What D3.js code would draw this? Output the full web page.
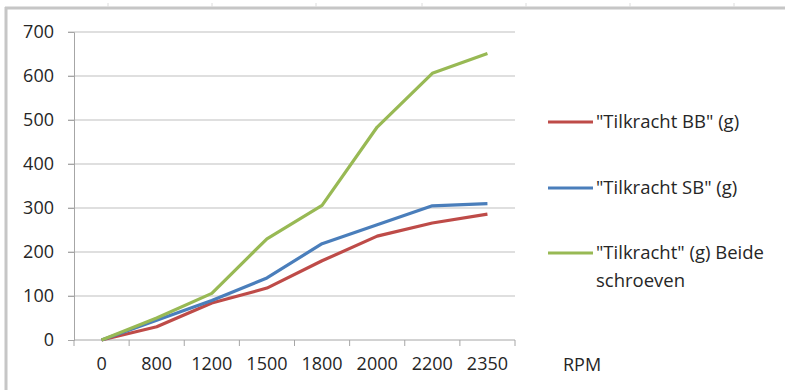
<!DOCTYPE html>
<html>
<head>
<meta charset="utf-8">
<script src="https://cdn.jsdelivr.net/npm/d3@7"></script>
<style>
  body { margin: 0; background: #fff; }
  svg text { font-family: "Open Sans", "Noto Sans", sans-serif; fill: #262626; }
</style>
</head>
<body>
<div id="chart"></div>
<script>
// RPM categories and the three series (g)
var rpm = ["0", "800", "1200", "1500", "1800", "2000", "2200", "2350"];
var tilkrachtBB = [0, 30, 84, 118, 180, 236, 266, 286];
var tilkrachtSB = [0, 45, 90, 141, 219, 262, 305, 310];
var tilkrachtBeide = [0, 50, 106, 230, 306, 484, 606, 651];
var yTicks = [0, 100, 200, 300, 400, 500, 600, 700];

var seriesNames = ['"Tilkracht BB" (g)', '"Tilkracht SB" (g)', '"Tilkracht" (g) Beide schroeven'];
var seriesColors = ["#be4b48", "#4a7ebb", "#98b954"];
var seriesData = [tilkrachtBB, tilkrachtSB, tilkrachtBeide];

var W = 785, H = 390;
var svg = d3.select("#chart").append("svg")
    .attr("width", W)
    .attr("height", H);

// outer frame (spreadsheet border)
svg.append("line").attr("x1", 5).attr("x2", W).attr("y1", 8).attr("y2", 8)
    .attr("stroke", "#c6c6c6").attr("stroke-width", 3);
svg.append("line").attr("x1", 6).attr("x2", 6).attr("y1", 7).attr("y2", H)
    .attr("stroke", "#c6c6c6").attr("stroke-width", 3);
[108, 212, 316, 422, 526, 630, 734].forEach(function(x) {
  svg.append("line").attr("x1", x).attr("x2", x).attr("y1", 3).attr("y2", 7)
      .attr("stroke", "#dcdcdc");
});

var margin = {left: 74, top: 32, right: 270, bottom: 50};
var plotW = 515 - margin.left, plotH = 340 - margin.top;

var g = svg.append("g")
    .attr("transform", "translate(" + margin.left + "," + margin.top + ")");

var x = d3.scaleBand()
    .domain(rpm)
    .range([0, plotW]);

var y = d3.scaleLinear()
    .domain([0, 700])
    .range([plotH, 0]);

// horizontal gridlines
g.selectAll(".grid")
  .data(yTicks.filter(function(d) { return d > 0; }))
  .enter()
  .append("line")
    .attr("x1", -6)
    .attr("x2", plotW)
    .attr("y1", function(d) { return y(d); })
    .attr("y2", function(d) { return y(d); })
    .attr("stroke", "#bfbfbf")
    .attr("stroke-width", 1);

// Y axis
var yAxis = g.append("g")
    .call(d3.axisLeft(y).tickValues(yTicks).tickSize(6).tickPadding(14));
yAxis.attr("font-size", null);
yAxis.select(".domain").attr("stroke", "#a6a6a6");
yAxis.selectAll(".tick line").attr("stroke", "#a6a6a6");
yAxis.selectAll("text").attr("font-size", "18px").style("font-size", "18px").attr("fill", "#262626");

// X axis
var xAxis = g.append("g")
    .attr("transform", "translate(0," + plotH + ")")
    .call(d3.axisBottom(x).tickSize(0).tickPadding(17));
xAxis.attr("font-size", null);
xAxis.select(".domain").attr("stroke", "#a6a6a6").attr("d", "M0,0H" + plotW);
xAxis.selectAll("text").attr("font-size", "18px").style("font-size", "18px").attr("fill", "#262626");

// tick marks between categories
var edges = rpm.map(function(d) { return x(d); }).concat([plotW]);
g.selectAll(".xtick")
  .data(edges)
  .enter()
  .append("line")
    .attr("x1", function(d) { return d; })
    .attr("x2", function(d) { return d; })
    .attr("y1", plotH)
    .attr("y2", plotH + 6)
    .attr("stroke", "#a6a6a6");

// lines
var line = d3.line()
    .x(function(d, i) { return x(rpm[i]) + x.bandwidth() / 2; })
    .y(function(d) { return y(d); });

seriesData.forEach(function(s, k) {
  g.append("path")
    .datum(s)
    .attr("fill", "none")
    .attr("stroke", seriesColors[k])
    .attr("stroke-width", 3.2)
    .attr("stroke-linejoin", "round")
    .attr("d", line);
});

// axis title
svg.append("text")
    .attr("x", 563)
    .attr("y", 371)
    .style("font-size", "18px")
    .text("RPM");

// legend
var legendY = [122, 188, 253];
var legend = svg.selectAll(".legend")
  .data(seriesNames)
  .enter()
  .append("g")
    .attr("transform", function(d, i) { return "translate(548," + legendY[i] + ")"; });

legend.append("line")
    .attr("x1", 0).attr("x2", 45)
    .attr("stroke", function(d, i) { return seriesColors[i]; })
    .attr("stroke-width", 3.2);

legend.append("text")
    .attr("x", 48)
    .attr("y", 6)
    .style("font-size", "18.5px")
    .each(function(d, i) {
      var t = d3.select(this);
      if (i === 2) {
        t.append("tspan").attr("x", 48).text('"Tilkracht" (g) Beide');
        t.append("tspan").attr("x", 48).attr("dy", 28).text("schroeven");
      } else {
        t.text(d);
      }
    });
</script>
</body>
</html>
